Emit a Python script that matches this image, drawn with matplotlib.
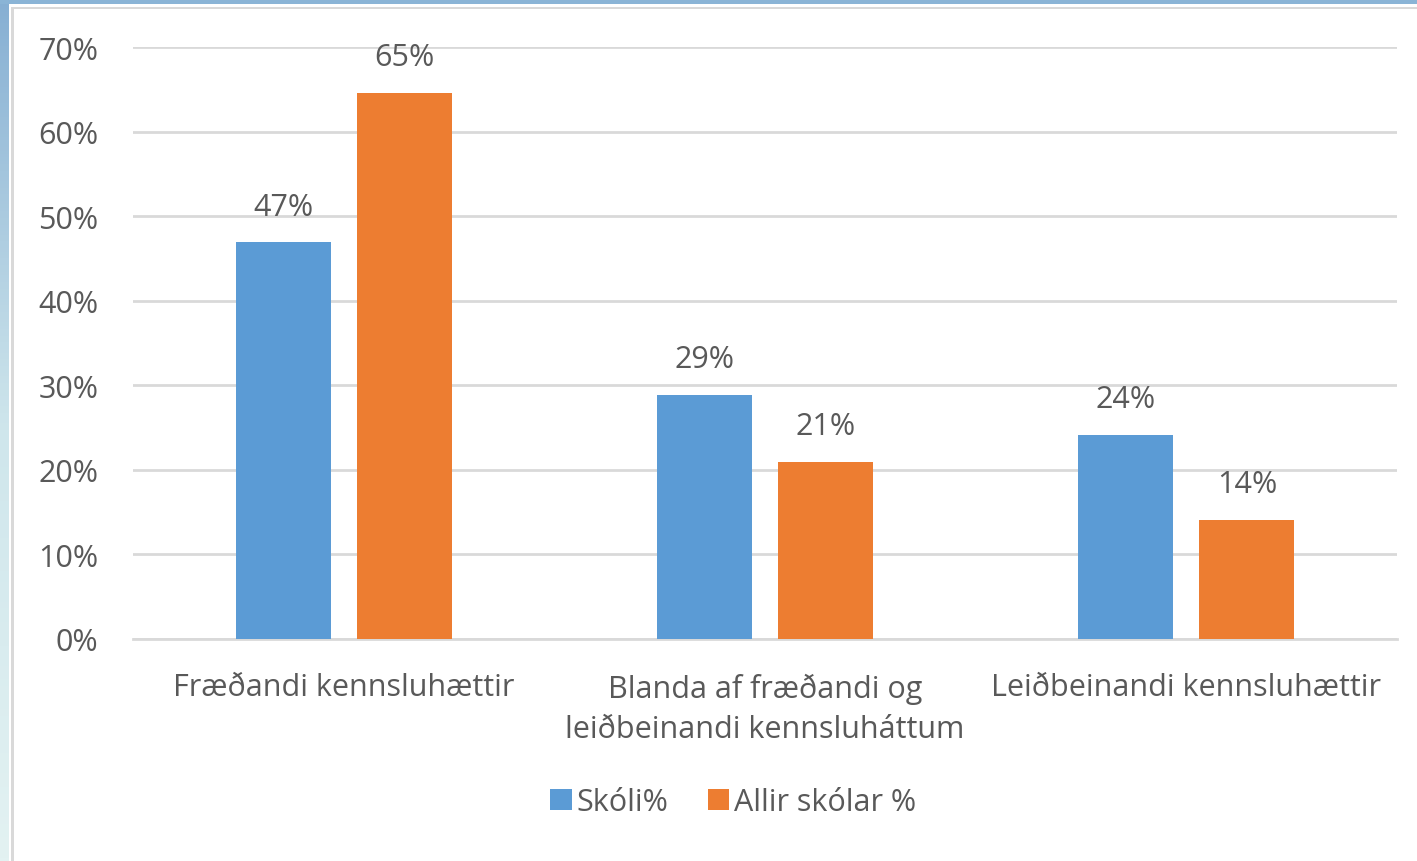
import numpy as np
import matplotlib.pyplot as plt
from matplotlib.patches import Rectangle
from matplotlib.colors import LinearSegmentedColormap

# Data (bar heights; labels show rounded %)
categories = ["Fræðandi kennsluhættir",
              "Blanda af fræðandi og\nleiðbeinandi kennsluháttum",
              "Leiðbeinandi kennsluhættir"]
skoli = [0.469, 0.289, 0.241]
allir = [0.646, 0.209, 0.141]
series_names = ["Skóli%", "Allir skólar %"]

BLUE = "#5b9bd5"
ORANGE = "#ed7d31"
TEXT = "#595959"
GRID = "#d9d9d9"
FS = 22

plt.rcParams["font.family"] = ["Open Sans", "DejaVu Sans"]

W, H = 1417, 862
fig = plt.figure(figsize=(W / 100, H / 100), dpi=100)
fig.patch.set_facecolor("white")

# slide-like frame: gradient strip on the left, blue strip on top, grey inner border
grad_ax = fig.add_axes([0, 0, 9 / W, 1])
grad = np.linspace(0, 1, 256).reshape(-1, 1)
cmap = LinearSegmentedColormap.from_list("frame", ["#e3f2f2", "#cfe6ec", "#86afd3"])
grad_ax.imshow(grad, aspect="auto", cmap=cmap, origin="lower", extent=[0, 1, 0, 1])
grad_ax.axis("off")
fig.patches.append(Rectangle((0, 1 - 5 / H), 1, 5 / H, transform=fig.transFigure,
                             facecolor="#8ab4d6", edgecolor="none", zorder=1))
fig.patches.append(Rectangle((11 / W, 0), 3 / W, 1 - 8 / H, transform=fig.transFigure,
                             facecolor="#d9d9d9", edgecolor="none", zorder=1))
fig.patches.append(Rectangle((11 / W, 1 - 10 / H), 1 - 11 / W, 2 / H, transform=fig.transFigure,
                             facecolor="#d9d9d9", edgecolor="none", zorder=1))

left, right = 133 / W, 1397 / W
bottom, top = 1 - 640 / H, 1 - 48 / H
ax = fig.add_axes([left, bottom, right - left, top - bottom])

x = np.arange(len(categories))
width = 0.226
offset = 0.1436
b1 = ax.bar(x - offset, skoli, width, color=BLUE, label=series_names[0], zorder=3)
b2 = ax.bar(x + offset, allir, width, color=ORANGE, label=series_names[1], zorder=3)

for bars in (b1, b2):
    ax.bar_label(bars, labels=[f"{v * 100:.0f}%" for v in bars.datavalues],
                 padding=15, fontsize=FS, color=TEXT)

ax.set_xlim(-0.5, 2.5)
ax.set_ylim(0, 0.7)
ticks = np.arange(0, 0.71, 0.1)
ax.set_yticks(ticks)
ax.set_yticklabels([f"{int(round(t * 100))}%" for t in ticks])
ax.set_xticks(x)
ax.set_xticklabels(categories)
ax.tick_params(axis="y", length=0, pad=25, labelsize=FS, labelcolor=TEXT)
ax.tick_params(axis="x", length=0, pad=24, labelsize=FS, labelcolor=TEXT)
for lab in ax.get_xticklabels():
    lab.set_linespacing(1.45)

ax.grid(axis="y", color=GRID, linewidth=2, zorder=0)
for side in ["top", "right", "left"]:
    ax.spines[side].set_visible(False)
ax.spines["bottom"].set_color(GRID)
ax.spines["bottom"].set_linewidth(2)
ax.set_facecolor("none")

ax.legend(loc="center", bbox_to_anchor=(733 / W, 1 - 803 / H),
          bbox_transform=fig.transFigure, ncol=2, frameon=False,
          fontsize=FS, labelcolor=TEXT, handlelength=0.7, handleheight=0.7,
          handletextpad=0.15, columnspacing=1.3)

fig.savefig("out.png", dpi=100)
